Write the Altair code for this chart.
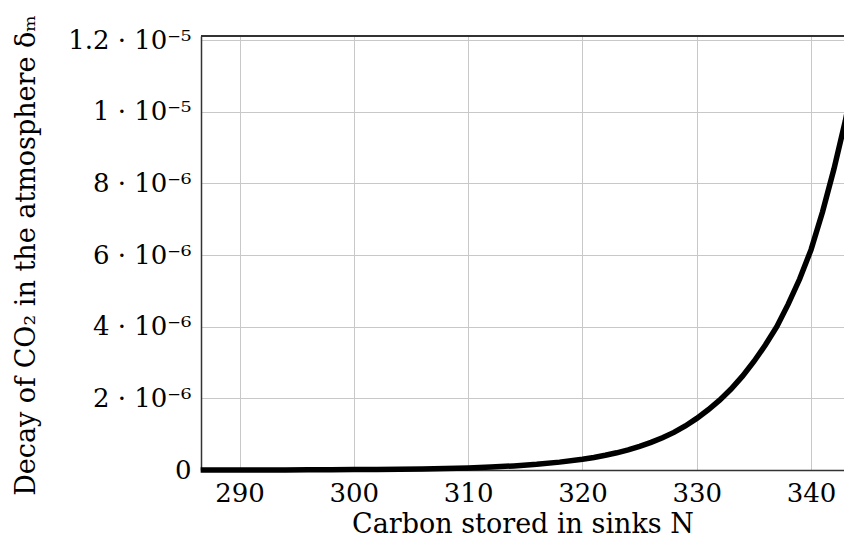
import altair as alt
import pandas as pd

# Carbon stored in sinks N
N_values = [286.6, 288, 290, 292, 294, 296, 298, 300, 302, 304, 306, 308, 310,
            312, 314, 316, 318, 320, 321, 322, 323, 324, 325, 326, 327, 328,
            329, 330, 331, 332, 333, 334, 335, 336, 337, 338, 339, 340, 341,
            342, 343, 343.6]
# Decay of CO2 in the atmosphere, in units of 1e-6
delta_e6 = [0.001, 0.0012, 0.0017, 0.0025, 0.0035, 0.005, 0.0075, 0.011, 0.015,
            0.021, 0.030, 0.042, 0.059, 0.082, 0.114, 0.158, 0.22, 0.30, 0.35,
            0.41, 0.48, 0.56, 0.66, 0.77, 0.90, 1.05, 1.23, 1.44, 1.68, 1.95,
            2.26, 2.62, 3.03, 3.49, 4.00, 4.63, 5.33, 6.15, 7.20, 8.40, 9.75,
            10.7]

y_ticks = [0, 2e-6, 4e-6, 6e-6, 8e-6, 1e-5, 1.2e-5]
y_tick_labels = ["0", "2 · 10⁻⁶", "4 · 10⁻⁶", "6 · 10⁻⁶", "8 · 10⁻⁶",
                 "1 · 10⁻⁵", "1.2 · 10⁻⁵"]
x_ticks = [290, 300, 310, 320, 330, 340]

df = pd.DataFrame({"N": N_values, "delta": [v * 1e-6 for v in delta_e6]})

label_expr = " : ".join(
    [f"abs(datum.value - {v}) < 1e-9 ? '{l}'" for v, l in zip(y_ticks, y_tick_labels)]
) + " : ''"

FONT = "DejaVu Serif"
FS = 26
TFS = 27
W, H = 643, 434

line = alt.Chart(df).mark_line(color="black", strokeWidth=5.5, clip=False).encode(
    x=alt.X("N:Q",
            scale=alt.Scale(domain=[286.63, 342.88], nice=False, zero=False),
            axis=alt.Axis(values=x_ticks, title="Carbon stored in sinks N",
                          format="d", ticks=False, labelPadding=10,
                          titleY=62, titleBaseline="alphabetic",
                          grid=True, gridColor="#c8c8c8", gridWidth=1,
                          domainColor="#333333", domainWidth=1.5,
                          labelFont=FONT, labelFontSize=FS, titleFont=FONT,
                          titleFontSize=TFS, titleFontWeight="normal",
                          labelColor="black", titleColor="black")),
    y=alt.Y("delta:Q",
            scale=alt.Scale(domain=[0, 1.2114e-5], nice=False),
            axis=alt.Axis(values=y_ticks, labelExpr=label_expr,
                          title="Decay of CO₂ in the atmosphere δₘ",
                          ticks=False, labelPadding=10,
                          titleX=-167, titleY=219, titleAngle=-90,
                          titleAlign="center", titleBaseline="alphabetic",
                          grid=True, gridColor="#c8c8c8", gridWidth=1,
                          domainColor="#333333", domainWidth=1.5,
                          labelFont=FONT, labelFontSize=FS, titleFont=FONT,
                          titleFontSize=TFS, titleFontWeight="normal",
                          labelColor="black", titleColor="black")),
)

top_border = alt.Chart(df).mark_rule(color="#333333", strokeWidth=1.5).encode(
    x=alt.value(0), x2=alt.value(W), y=alt.value(0)
)

chart = alt.layer(line, top_border).properties(
    width=W, height=H,
    autosize=alt.AutoSizeParams(type="none"),
    padding={"left": 193, "top": 28, "right": 0, "bottom": 74},
).configure_view(strokeOpacity=0)

chart.save("out.html", embed_options={"renderer": "svg", "actions": False})
